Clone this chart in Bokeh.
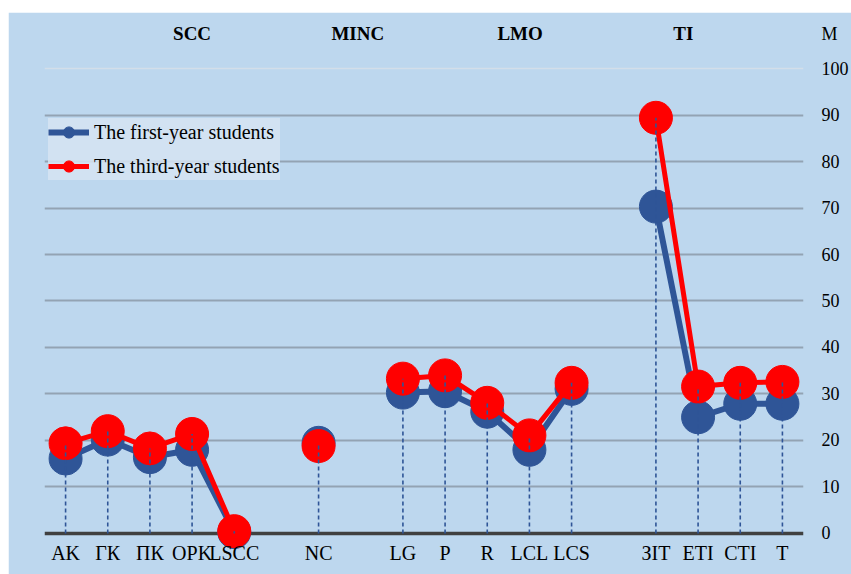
import numpy as np
from bokeh.plotting import figure
from bokeh.models import ColumnDataSource, Span, Label, Legend, LegendItem, FixedTicker
from bokeh.embed import file_html
from bokeh.resources import INLINE
from bokeh.core.properties import value

# ---- data ----
categories = ["AK", "ГК", "ПК", "OPK", "LSCC", "", "NC", "", "LG", "P", "R", "LCL", "LCS", "",
              "ЗIT", "ETI", "CTI", "T"]
first_year = [16.1, 20.2, 16.4, 18.0, 0.3, None, 19.5, None, 30.3, 30.6, 26.2, 18.0, 31.1, None,
              70.3, 25.0, 27.9, 27.9]
third_year = [19.4, 22.0, 18.3, 21.4, 0.5, None, 18.8, None, 33.3, 34.0, 28.1, 21.1, 32.4, None,
              89.4, 31.6, 32.4, 32.6]
groups = ["SCC", "MINC", "LMO", "TI"]
group_pos = [3.0, 6.93, 10.78, 14.65]
y_ticks = [0, 10, 20, 30, 40, 50, 60, 70, 80, 90, 100]
top_label = "M"
top_label_y = 107.5

BLUE = "#2F5597"
RED = "#FF0000"
BG = "#BDD7EE"
SERIF = "'Liberation Serif', 'Times New Roman', 'DejaVu Serif', serif"

x = np.arange(len(categories), dtype=float)
fy = np.array([np.nan if v is None else v for v in first_year])
ty = np.array([np.nan if v is None else v for v in third_year])
valid = ~np.isnan(fy)
drop_top = np.fmax(fy, ty)

p = figure(width=843, height=562, output_backend="svg", toolbar_location=None,
           x_range=(-0.5, 17.5), y_range=(-8.82, 110.97),
           x_axis_location=None, y_axis_location="right",
           min_border_left=36, min_border_right=46, min_border_top=5, min_border_bottom=0)
p.margin = (12, 0, 0, 8)
p.background_fill_color = BG
p.border_fill_color = BG
p.outline_line_color = BG
p.outline_line_width = 2

# axis (value ticks + "M" heading)
p.yaxis.ticker = FixedTicker(ticks=y_ticks + [top_label_y])
p.yaxis.major_label_overrides = {top_label_y: top_label}
p.yaxis.axis_line_color = None
p.yaxis.major_tick_line_color = None
p.yaxis.minor_tick_line_color = None
p.yaxis.major_label_standoff = 12
p.yaxis.major_label_text_font = SERIF
p.yaxis.major_label_text_font_size = "18px"
p.yaxis.major_label_text_color = "black"

# grid
p.xgrid.visible = False
p.ygrid.ticker = FixedTicker(ticks=y_ticks[1:-1])
p.ygrid.grid_line_color = "#93A3B3"
p.ygrid.grid_line_width = 1.8
p.add_layout(Span(location=y_ticks[-1], dimension="width", line_color="#D3DEE9",
                  line_width=1.5, level="underlay"))
p.add_layout(Span(location=y_ticks[0], dimension="width", line_color="#404040",
                  line_width=3.5, level="underlay"))

src = ColumnDataSource(dict(x=x, fy=fy, ty=ty))
l1 = p.line("x", "fy", source=src, line_color=BLUE, line_width=6)
m1 = p.scatter("x", "fy", source=src, size=33, fill_color=BLUE, line_color=BLUE)
l2 = p.line("x", "ty", source=src, line_color=RED, line_width=5)
m2 = p.scatter("x", "ty", source=src, size=33, fill_color=RED, line_color=RED)

# drop lines
dsrc = ColumnDataSource(dict(x=x[valid], y0=np.zeros(valid.sum()), y1=drop_top[valid]))
p.segment(x0="x", y0="y0", x1="x", y1="y1", source=dsrc, line_color=BLUE,
          line_width=1.6, line_dash="4 3")

# category labels
lab = [(xi, c) for xi, c in zip(x, categories) if c]
lsrc = ColumnDataSource(dict(x=[a for a, _ in lab], y=[-4.1] * len(lab), t=[b for _, b in lab]))
p.text("x", "y", text="t", source=lsrc, text_align="center", text_baseline="middle",
       text_font=value(SERIF), text_font_size="20px", text_color="black")

# group labels
for g, gx in zip(groups, group_pos):
    p.add_layout(Label(x=gx, y=107.5, text=g, text_align="center", text_baseline="middle",
                       text_font=SERIF, text_font_size="19px", text_font_style="bold",
                       text_color="black"))

legend = Legend(items=[LegendItem(label="The first-year students", renderers=[l1, m1]),
                       LegendItem(label="The third-year students", renderers=[l2, m2])],
                location=(4, 394), orientation="vertical")
legend.background_fill_color = "#D6E4F2"
legend.background_fill_alpha = 0.85
legend.border_line_color = None
legend.label_text_font = SERIF
legend.label_text_font_size = "20px"
legend.label_text_color = "black"
legend.glyph_width = 41
legend.glyph_height = 28
legend.spacing = 6
legend.padding = 4
legend.margin = 0
legend.label_standoff = 5
p.add_layout(legend, "center")

open("out.html", "w").write(file_html(p, INLINE))
